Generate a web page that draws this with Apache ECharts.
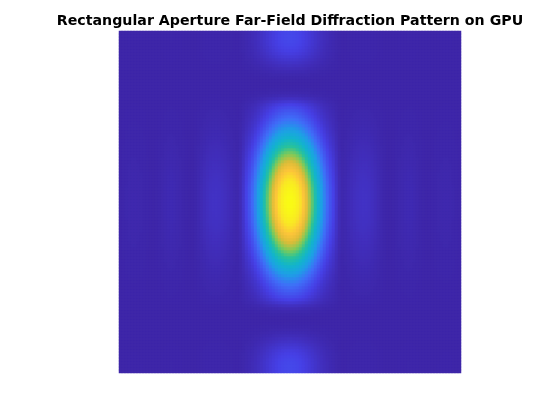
<!DOCTYPE html>
<html><head><meta charset="utf-8">
<style>html,body{margin:0;padding:0;background:#fff}#c{width:560px;height:420px}</style>
<script src="https://cdn.jsdelivr.net/npm/echarts@6/dist/echarts.min.js"></script>
</head><body><div id="c"></div>
<script>
const titleText = 'Rectangular Aperture Far-Field Diffraction Pattern on GPU';
// intensity read across the aperture centre, from the middle outward
const acrossFromCentre = [.997,.978,.94,.885,.815,.735,.65,.56,.472,.39,.315,.248,.19,.142,.105,.06,.025,.01,.014,.021,.028,.035,.04,.044,.046,.045,.042,.036,.028,.02,.012,.005,.001,0,.002,.005,.009,.012,.015,.017,.016,.013,.009,.005,.002,0,.001,.003,.005,.007,.008,.009,.009,.008,.006,.004,.002];
// intensity read along the aperture centre, from the middle outward
const alongFromCentre = [1,.996,.989,.978,.963,.944,.922,.897,.869,.839,.806,.772,.736,.699,.661,.622,.583,.544,.505,.467,.43,.393,.358,.325,.293,.263,.236,.21,.187,.166,.146,.125,.1,.07,.04,.02,.01,.004,.001,0,.002,.005,.01,.017,.026,.037,.049,.062,.075,.087,.097,.105,.111,.115,.117,.117,.115];
const colormap = ['#3e26a8','#4640e6','#3f6ef8','#1e9fe6','#12b4cc','#27c29c','#80ca58','#dcbc38','#fcc43a','#f9e725','#f9fb15'];

const across = acrossFromCentre.slice().reverse().concat(acrossFromCentre);
const along = alongFromCentre.slice().reverse().concat(alongFromCentre);
const table = [];
along.forEach((v, r) => across.forEach((u, c) => table.push([c, r, u * v])));
const cats = a => a.map((_, i) => i);

const chart = echarts.init(document.getElementById('c'), null, {renderer: 'canvas'});
chart.setOption({
  animation: false,
  backgroundColor: '#fff',
  title: {text: titleText, left: 285, top: 9, textAlign: 'center',
    textStyle: {fontFamily: 'DejaVu Sans', fontWeight: 'bold', fontSize: 14.2, color: '#000'}},
  grid: {left: 119, top: 31, width: 342, height: 342},
  xAxis: {type: 'category', data: cats(across), show: false},
  yAxis: {type: 'category', data: cats(along), show: false},
  visualMap: {show: false, min: 0, max: 1, calculable: false, inRange: {color: colormap}},
  series: [{type: 'heatmap', data: table, progressive: 0, emphasis: {disabled: true}}]
});
</script></body></html>
